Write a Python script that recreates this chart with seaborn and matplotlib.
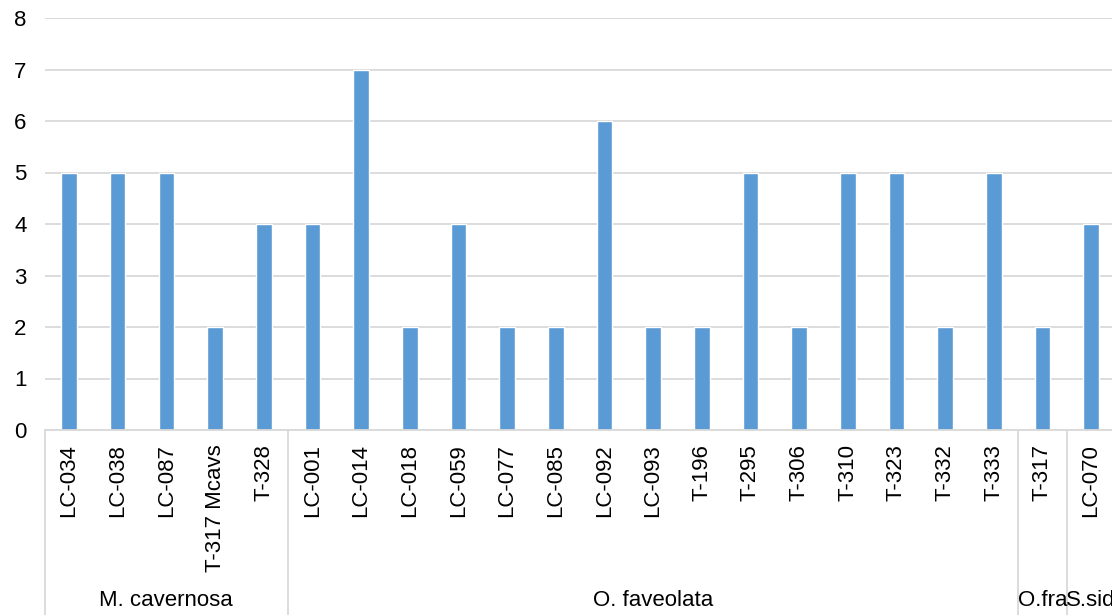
import matplotlib
matplotlib.use("Agg")
import matplotlib.pyplot as plt
import matplotlib.transforms as mtransforms
import seaborn as sns
import pandas as pd

groups = ["M. cavernosa", "O. faveolata", "O.fra", "S.sid"]
group_samples = [
    ["LC-034", "LC-038", "LC-087", "T-317 Mcavs", "T-328"],
    ["LC-001", "LC-014", "LC-018", "LC-059", "LC-077", "LC-085", "LC-092",
     "LC-093", "T-196", "T-295", "T-306", "T-310", "T-323", "T-332", "T-333"],
    ["T-317"],
    ["LC-070"],
]
group_values = [
    [5, 5, 5, 2, 4],
    [4, 7, 2, 4, 2, 2, 6, 2, 2, 5, 2, 5, 5, 2, 5],
    [2],
    [4],
]

samples = [s for g in group_samples for s in g]
values = [v for g in group_values for v in g]
df = pd.DataFrame({"sample": samples, "value": values})

sns.set_style("white")
plt.rcParams["font.family"] = ["Liberation Sans", "DejaVu Sans"]

W, H = 1112, 615
fig = plt.figure(figsize=(W / 100, H / 100), dpi=100)
left_px, right_px = 44.7, 1112
bottom_px, top_px = 185, 597
ax = fig.add_axes([left_px / W, bottom_px / H, (right_px - left_px) / W, (top_px - bottom_px) / H])

sns.barplot(data=df, x="sample", y="value", order=samples, color="#5b9bd5",
            saturation=1, width=0.32, ax=ax)

n = len(samples)
ax.set_xlim(-0.5, -0.5 + (right_px - left_px) / 48.67)
ax.set_ylim(0, 8)
ax.set_yticks(range(0, 9))
ax.yaxis.grid(True, color="#d9d9d9", linewidth=1.3)
ax.set_axisbelow(True)
for s in ["left", "right", "top"]:
    ax.spines[s].set_visible(False)
ax.spines["bottom"].set_color("#d9d9d9")
ax.spines["bottom"].set_linewidth(1.3)
ax.tick_params(axis="both", length=0, labelsize=16, colors="black")
ax.tick_params(axis="y", pad=13)
ax.tick_params(axis="x", pad=10)
ax.set_xticks(range(n))
ax.set_xticklabels(samples, rotation=90, va="top", ha="center")
ax.set_xlabel("")
ax.set_ylabel("")

trans = mtransforms.blended_transform_factory(ax.transData, ax.transAxes)
bottom_ax = -bottom_px / (top_px - bottom_px)
pos = -0.5
bounds = [pos]
for g in group_samples:
    pos += len(g)
    bounds.append(pos)
for b in bounds:
    ax.plot([b, b], [0, bottom_ax], transform=trans, color="#d9d9d9",
            linewidth=1.3, clip_on=False)
label_y = -(185 - 14) / (top_px - bottom_px)
for i, g in enumerate(groups):
    cx = (bounds[i] + bounds[i + 1]) / 2
    ax.text(cx, label_y, g, transform=trans, ha="center", va="center",
            fontsize=16, color="black", clip_on=False)

fig.savefig("out.png", dpi=100)
